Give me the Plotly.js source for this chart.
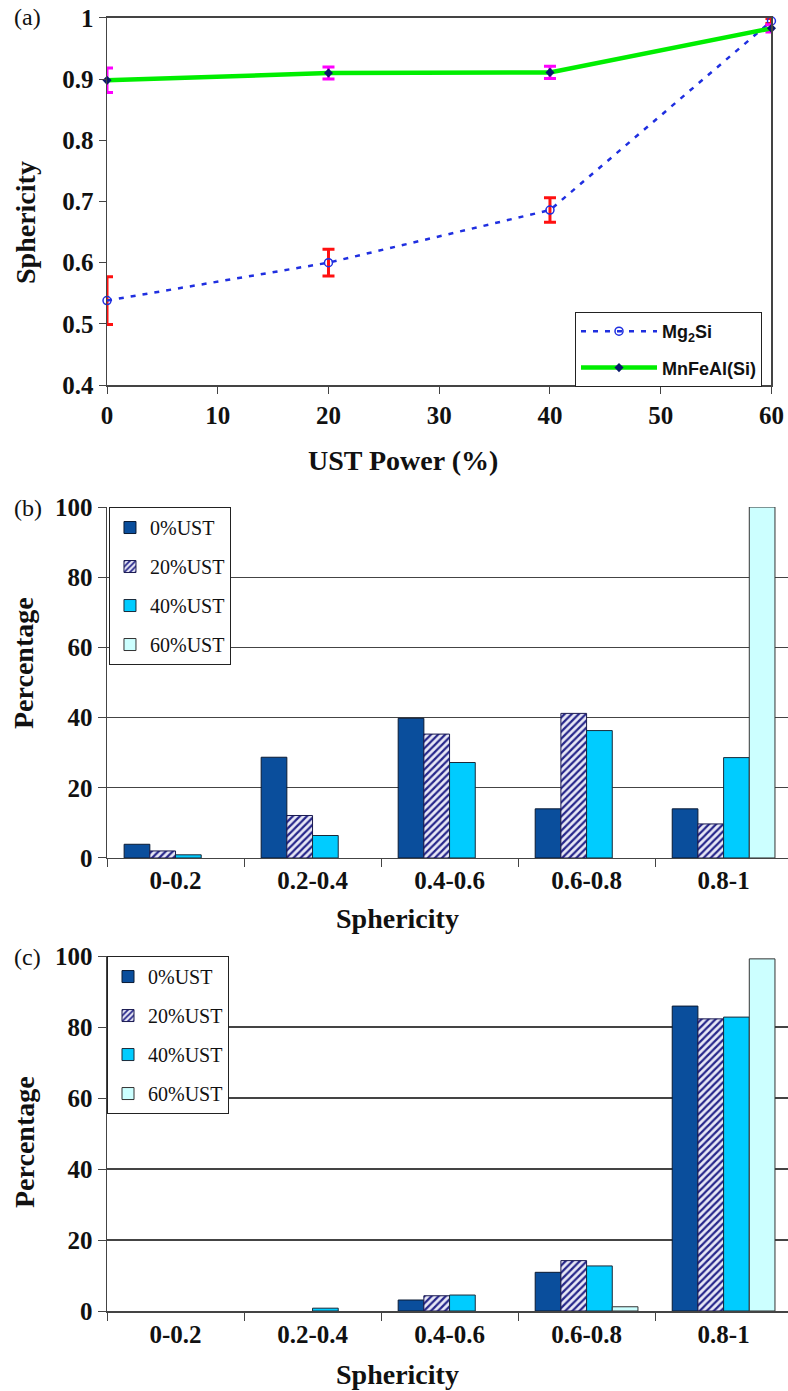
<!DOCTYPE html>
<html>
<head>
<meta charset="utf-8">
<script src="https://cdn.plot.ly/plotly-3.0.1.min.js"></script>
<style>html,body{margin:0;padding:0;background:#fff;}#chart{width:788px;height:1391px;}</style>
</head>
<body>
<div id="chart"></div>
<script>
// ---- Panel (a) data ----
const powers = [0, 20, 40, 60];
const mg2si = [0.538, 0.600, 0.686, 0.995];
const mg2siErr = [0.039, 0.022, 0.020, 0.004];
const mnfeal = [0.898, 0.910, 0.911, 0.983];
const mnfealErr = [0.020, 0.010, 0.010, 0.006];

// ---- Panels (b) and (c) data (null = no bar drawn) ----
const bins = ['0-0.2', '0.2-0.4', '0.4-0.6', '0.6-0.8', '0.8-1'];
const ustLabels = ['0%UST', '20%UST', '40%UST', '60%UST'];
const b_ust0 = [3.9, 28.7, 39.8, 14.0, 14.0];
const b_ust20 = [2.0, 12.1, 35.3, 41.2, 9.7];
const b_ust40 = [0.9, 6.4, 27.2, 36.3, 28.6];
const b_ust60 = [null, null, null, null, 100];
const c_ust0 = [null, null, 3.1, 10.9, 85.9];
const c_ust20 = [null, null, 4.3, 14.2, 82.3];
const c_ust40 = [null, 0.8, 4.5, 12.7, 82.8];
const c_ust60 = [null, null, null, 1.2, 99.2];

const serif = 'Liberation Serif, Times New Roman, serif';
const sans = 'Liberation Sans, Arial, sans-serif';

const barStyles = [
  {color: '#0a4e9c', line: {color: '#0a1a33', width: 1}},
  {color: '#e4e4f4', line: {color: '#1a1a50', width: 1},
   pattern: {shape: '/', fgcolor: '#26268a', bgcolor: '#e8e8f6', size: 5, solidity: 0.45}},
  {color: '#00ccff', line: {color: '#1a2a3a', width: 1}},
  {color: '#ccffff', line: {color: '#333333', width: 1}}
];

const traces = [];
traces.push({
  x: powers, y: mg2si, xaxis: 'x', yaxis: 'y', type: 'scatter', mode: 'lines+markers',
  name: 'Mg<sub>2</sub>Si', legend: 'legend', legendgroup: 'a1',
  line: {color: '#1f2fe0', width: 2.5, dash: '5px,7px'},
  marker: {symbol: 'circle-open', size: 8, color: '#1f2fe0', line: {width: 1.5}},
  error_y: {type: 'data', array: mg2siErr, visible: true, color: '#ff1010', thickness: 3, width: 6},
  cliponaxis: false
});
traces.push({
  x: powers, y: mnfeal, xaxis: 'x', yaxis: 'y', type: 'scatter', mode: 'lines+markers',
  name: 'MnFeAl(Si)', legend: 'legend', legendgroup: 'a2',
  line: {color: '#00ee00', width: 4.5},
  marker: {symbol: 'diamond', size: 7, color: '#0a1a6a'},
  error_y: {type: 'data', array: mnfealErr, visible: true, color: '#ff00ff', thickness: 3, width: 6},
  cliponaxis: false
});

const bSeries = [b_ust0, b_ust20, b_ust40, b_ust60];
const cSeries = [c_ust0, c_ust20, c_ust40, c_ust60];
bSeries.forEach((vals, i) => {
  traces.push({
    x: bins, y: vals, type: 'bar', xaxis: 'x2', yaxis: 'y2', name: ustLabels[i],
    legend: 'legend2', legendgroup: 'b' + i, marker: barStyles[i]
  });
});
cSeries.forEach((vals, i) => {
  traces.push({
    x: bins, y: vals, type: 'bar', xaxis: 'x3', yaxis: 'y3', name: ustLabels[i],
    legend: 'legend3', legendgroup: 'c' + i, marker: barStyles[i]
  });
});

const tickFontBold = {family: serif, size: 25, color: '#111', weight: 'bold'};

function catAxis(anchor) {
  return {
    type: 'category', domain: [0.1358, 1], range: [-0.5, 4.47], anchor: anchor,
    tickson: 'boundaries', ticks: 'outside', ticklen: 8, tickcolor: '#444',
    showline: true, linecolor: '#444', linewidth: 1.5, showgrid: false,
    tickfont: {family: serif, size: 25, color: '#111', weight: 'bold'}
  };
}
function pctAxis(domain, anchor) {
  return {
    domain: domain, range: [0, 100], dtick: 20, anchor: anchor,
    ticks: 'outside', ticklen: 8, tickcolor: '#444',
    showline: true, linecolor: '#444', linewidth: 1.5,
    showgrid: true, gridcolor: '#444', gridwidth: 1.3, zeroline: false,
    tickfont: tickFontBold
  };
}

const titleFont = {family: serif, size: 28, color: '#111', weight: 'bold'};

const layout = {
  width: 788, height: 1391,
  margin: {l: 0, r: 0, t: 0, b: 0},
  paper_bgcolor: '#ffffff', plot_bgcolor: '#ffffff',
  showlegend: true,
  barmode: 'group', bargap: 0.25, bargroupgap: 0,
  xaxis: {
    domain: [0.1358, 0.979], range: [0, 60], dtick: 10, anchor: 'y',
    ticks: 'outside', ticklen: 7, tickcolor: '#444',
    showline: true, linecolor: '#444', linewidth: 1.5, mirror: true,
    showgrid: false, zeroline: false, tickfont: tickFontBold
  },
  yaxis: {
    domain: [0.7232, 0.9871], range: [0.4, 1], dtick: 0.1, anchor: 'x',
    ticks: 'outside', ticklen: 7, tickcolor: '#444',
    showline: true, linecolor: '#444', linewidth: 1.5, mirror: true,
    showgrid: false, zeroline: false, tickfont: tickFontBold
  },
  xaxis2: catAxis('y2'),
  yaxis2: pctAxis([0.3832, 0.6355], 'x2'),
  xaxis3: catAxis('y3'),
  yaxis3: pctAxis([0.0575, 0.3127], 'x3'),
  legend: {
    x: 0.7297, y: 0.7757, xanchor: 'left', yanchor: 'top',
    bordercolor: '#222', borderwidth: 1, bgcolor: '#ffffff',
    font: {family: sans, size: 18, color: '#111', weight: 'bold'},
    traceorder: 'grouped', tracegroupgap: 10, itemwidth: 76
  },
  legend2: {
    x: 0.1383, y: 0.6355, xanchor: 'left', yanchor: 'top',
    bordercolor: '#222', borderwidth: 1, bgcolor: '#ffffff',
    font: {family: serif, size: 20, color: '#111'},
    traceorder: 'grouped', tracegroupgap: 10, itemwidth: 30
  },
  legend3: {
    x: 0.1358, y: 0.3127, xanchor: 'left', yanchor: 'top',
    bordercolor: '#222', borderwidth: 1, bgcolor: '#ffffff',
    font: {family: serif, size: 20, color: '#111'},
    traceorder: 'grouped', tracegroupgap: 10, itemwidth: 30
  },
  annotations: [
    {text: '(a)', xref: 'paper', yref: 'paper', x: 12/788, y: 1 - 17/1391, xanchor: 'left', yanchor: 'middle',
     showarrow: false, font: {family: serif, size: 24, color: '#111'}},
    {text: '(b)', xref: 'paper', yref: 'paper', x: 12/788, y: 1 - 508/1391, xanchor: 'left', yanchor: 'middle',
     showarrow: false, font: {family: serif, size: 24, color: '#111'}},
    {text: '(c)', xref: 'paper', yref: 'paper', x: 12/788, y: 1 - 957/1391, xanchor: 'left', yanchor: 'middle',
     showarrow: false, font: {family: serif, size: 24, color: '#111'}},
    {text: 'Sphericity', xref: 'paper', yref: 'paper', x: 26/788, y: 1 - 223/1391, textangle: -90,
     xanchor: 'center', yanchor: 'middle', showarrow: false, font: titleFont},
    {text: 'UST Power (%)', xref: 'paper', yref: 'paper', x: 403/788, y: 1 - 460/1391,
     xanchor: 'center', yanchor: 'middle', showarrow: false, font: titleFont},
    {text: 'Percentage', xref: 'paper', yref: 'paper', x: 24/788, y: 1 - 663/1391, textangle: -90,
     xanchor: 'center', yanchor: 'middle', showarrow: false, font: titleFont},
    {text: 'Sphericity', xref: 'paper', yref: 'paper', x: 397/788, y: 1 - 918/1391,
     xanchor: 'center', yanchor: 'middle', showarrow: false, font: titleFont},
    {text: 'Percentage', xref: 'paper', yref: 'paper', x: 24/788, y: 1 - 1142/1391, textangle: -90,
     xanchor: 'center', yanchor: 'middle', showarrow: false, font: titleFont},
    {text: 'Sphericity', xref: 'paper', yref: 'paper', x: 397/788, y: 1 - 1374/1391,
     xanchor: 'center', yanchor: 'middle', showarrow: false, font: titleFont}
  ]
};

Plotly.newPlot('chart', traces, layout, {staticPlot: true, displayModeBar: false});
</script>
</body>
</html>
